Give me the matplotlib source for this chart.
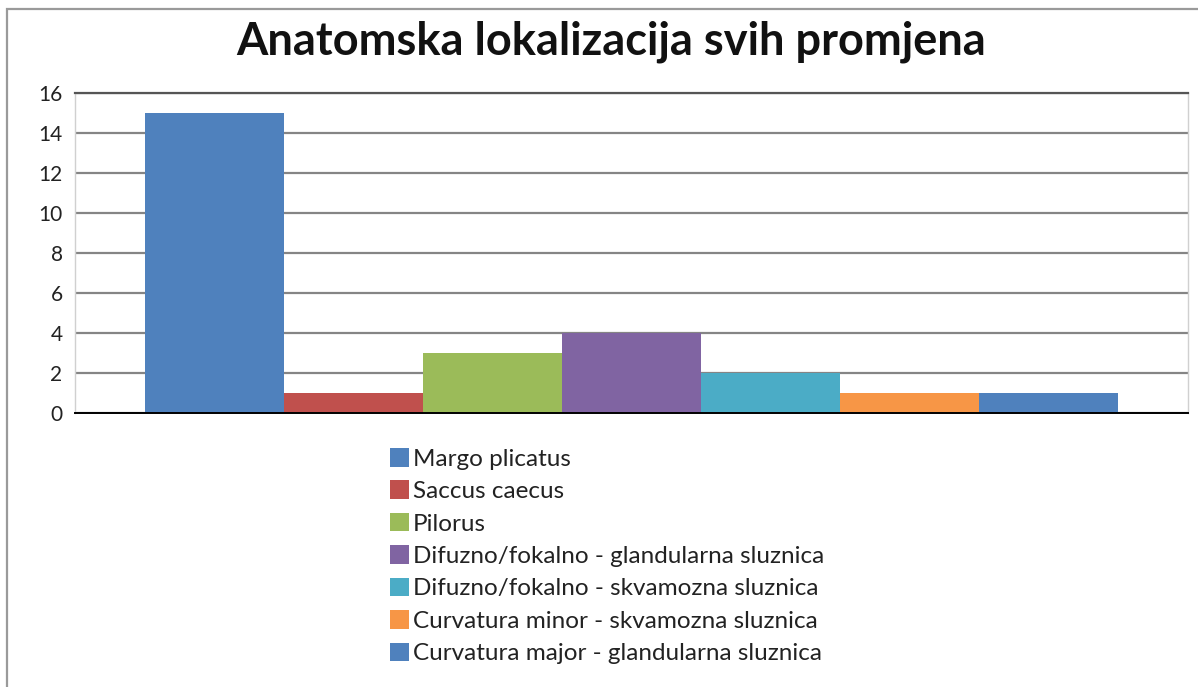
import numpy as np
import matplotlib.pyplot as plt
from matplotlib.patches import Rectangle

# podaci
labels = ["Margo plicatus", "Saccus caecus", "Pilorus",
          "Difuzno/fokalno - glandularna sluznica",
          "Difuzno/fokalno - skvamozna sluznica",
          "Curvatura minor - skvamozna sluznica",
          "Curvatura major - glandularna sluznica"]
values = [15, 1, 3, 4, 2, 1, 1]
colors = ["#4F81BD", "#C0504D", "#9BBB59", "#8064A2", "#4BACC6", "#F79646", "#4F81BD"]
yticks = [0, 2, 4, 6, 8, 10, 12, 14, 16]

plt.rcParams['font.family'] = ['Lato', 'DejaVu Sans']

W, H = 1198, 687
fig = plt.figure(figsize=(W / 100, H / 100), dpi=100)

# okvir grafikona
fig.patches.append(Rectangle((7 / W, -0.1), 1.2, 1 - 9 / H + 0.1, transform=fig.transFigure,
                             fill=False, edgecolor="#9a9a9a", lw=1.6))

ax = fig.add_axes([75 / W, 1 - 413 / H, (1188 - 75) / W, (413 - 93) / H])
x = np.arange(len(values))
for i in range(len(values)):
    ax.bar(x[i], values[i], width=1.0, color=colors[i], label=labels[i], zorder=3)

ax.set_xlim(-1.0, 7.0)
ax.set_ylim(0, 16)
ax.set_yticks(yticks)
ax.set_xticks([])
ax.yaxis.grid(True, color="#858585", lw=1.6, zorder=1)
ax.tick_params(axis='y', length=0, pad=9, labelsize=15, labelcolor="#222222")
for s in ['left', 'right']:
    ax.spines[s].set_color("#d0d0d0")
    ax.spines[s].set_linewidth(1.0)
ax.spines['top'].set_color("#555555")
ax.spines['top'].set_linewidth(1.6)
ax.spines['bottom'].set_color("#000000")
ax.spines['bottom'].set_linewidth(1.4)
ax.spines['bottom'].set_zorder(4)

fig.text(611 / W, 1 - 42 / H, "Anatomska lokalizacija svih promjena", ha='center', va='center',
         fontsize=32.5, fontweight='bold', color="#111111")

fig.legend(loc='upper left', bbox_to_anchor=(390 / W, 1 - 448 / H), frameon=False,
           fontsize=17.5, handlelength=0.8, handleheight=0.8, handletextpad=0.15,
           labelspacing=0.44, borderpad=0, borderaxespad=0, labelcolor="#222222")

fig.savefig("out.png", dpi=100)
